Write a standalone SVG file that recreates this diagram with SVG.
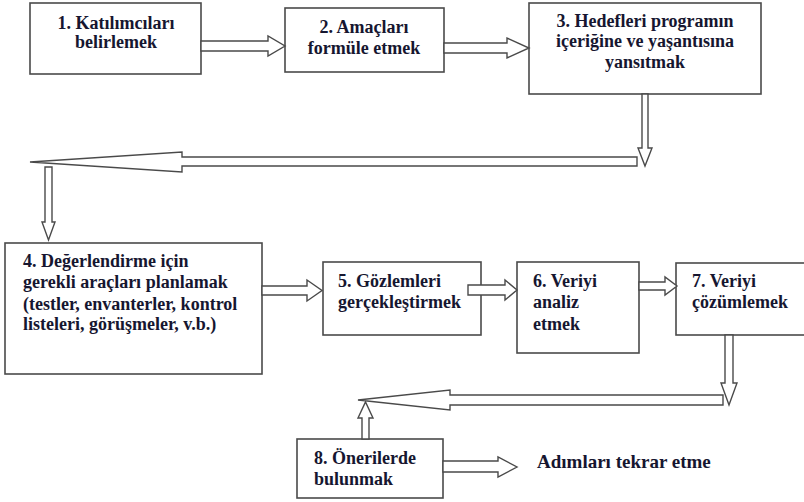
<svg xmlns="http://www.w3.org/2000/svg" width="804" height="502" viewBox="0 0 804 502">
<style>
.box{fill:#fff;stroke:#4a4a4a;stroke-width:1.6}
.arr{fill:#fff;stroke:#4a4a4a;stroke-width:1.4;stroke-linejoin:miter}
text{font-family:'Liberation Serif','DejaVu Serif',serif;font-size:18px;font-weight:700;fill:#161630}
.c{text-anchor:middle}
</style>
<rect width="804" height="502" fill="#fff"/>
<g id="n1"><rect class="box" x="30" y="3" width="171" height="71"/><text class="c" x="116" y="29">1. Katılımcıları</text><text class="c" x="116" y="48">belirlemek</text></g>
<g id="n2"><rect class="box" x="285" y="8" width="159" height="64"/><text class="c" x="364" y="33">2. Amaçları</text><text class="c" x="364" y="54">formüle etmek</text></g>
<g id="n3"><rect class="box" x="529" y="3" width="232" height="91"/><text class="c" x="645" y="27">3. Hedefleri programın</text><text class="c" x="645" y="47">içeriğine ve yaşantısına</text><text class="c" x="645" y="68">yansıtmak</text></g>
<g id="n4"><rect class="box" x="5" y="243" width="257" height="131"/><text x="23" y="267">4. Değerlendirme için</text><text x="23" y="288">gerekli araçları planlamak</text><text x="23" y="310">(testler, envanterler, kontrol</text><text x="23" y="330">listeleri, görüşmeler, v.b.)</text></g>
<g id="n5"><rect class="box" x="323" y="262" width="158" height="73"/><text x="338" y="287">5. Gözlemleri</text><text x="338" y="308">gerçekleştirmek</text></g>
<g id="n6"><rect class="box" x="517" y="262" width="122" height="91"/><text x="533" y="287">6. Veriyi</text><text x="533" y="308">analiz</text><text x="533" y="330">etmek</text></g>
<g id="n7"><rect class="box" x="676" y="263" width="140" height="72"/><text x="692" y="287">7. Veriyi</text><text x="692" y="308">çözümlemek</text></g>
<g id="n8"><rect class="box" x="297" y="439" width="146" height="59"/><text x="314" y="464">8. Önerilerde</text><text x="314" y="485">bulunmak</text></g>
<g id="n9"><text x="537" y="468" style="font-size:19px">Adımları tekrar etme</text></g>
<g id="connectors">
<polygon class="arr" points="201,41 268,41 268,36 285,46 268,56 268,51 201,51"/>
<polygon class="arr" points="444,43 507,43 507,38 529,48 507,58 507,53 444,53"/>
<polygon class="arr" points="637,157 182,157 182,152 30,162 182,172 182,166 637,166"/>
<polygon class="arr" points="642,94 648,94 648,148 652,148 645,166 638,148 642,148"/>
<polygon class="arr" points="45,167 52,167 52,222 55,222 48.5,240 42,222 45,222"/>
<polygon class="arr" points="262,286 307,286 307,280 322,290.5 307,301 307,295 262,295"/>
<polygon class="arr" points="468,285 505,285 505,280 517,290 505,300 505,295 468,295"/>
<polygon class="arr" points="639,282 665,282 665,277 677,286 665,295 665,290 639,290"/>
<polygon class="arr" points="723,395 450,395 450,390 358,400 450,410 450,405 723,405"/>
<polygon class="arr" points="725,335 733,335 733,383 737,383 729,405 721,383 725,383"/>
<polygon class="arr" points="362,439 369,439 369,418 373,418 365.5,402 358,418 362,418"/>
<polygon class="arr" points="443,461 498,461 498,457 517,467 498,477 498,472 443,472"/>
</g>
</svg>
